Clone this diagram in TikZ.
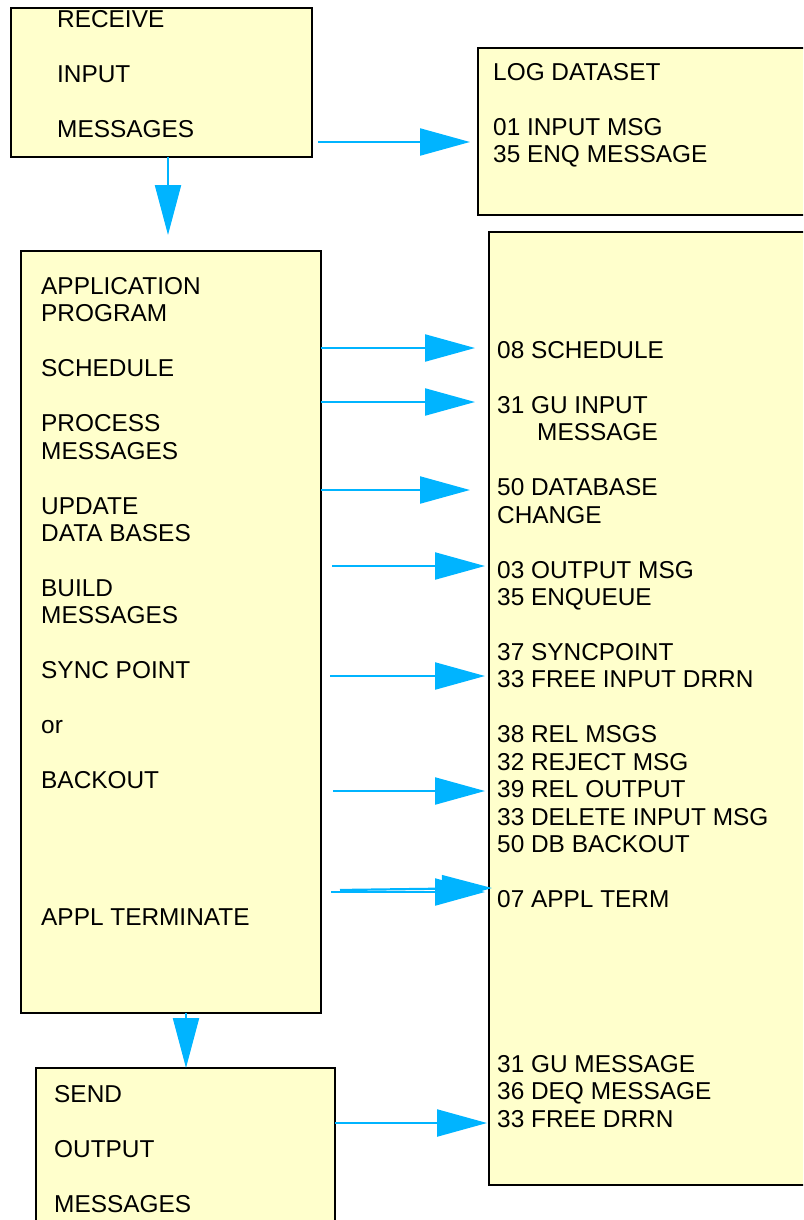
\documentclass[tikz,border=0pt]{standalone}
\usepackage{fontspec}
\setmainfont{Liberation Sans}
\usetikzlibrary{arrows.meta}
\definecolor{boxfill}{RGB}{255,255,204}
\definecolor{flowblue}{RGB}{0,180,255}
\begin{document}
\begin{tikzpicture}[x=1pt,y=-1pt,
  box/.style={draw=black,line width=1.6pt,fill=boxfill,inner sep=0pt,outer sep=0pt,anchor=north west},
  txt/.style={anchor=north west,inner sep=0pt,align=left,font=\fontsize{24.4pt}{27.45pt}\selectfont},
  flow/.style={draw=flowblue,line width=2.2pt,-{Triangle[length=50pt,width=27pt]}}]
\useasboundingbox (0,0) rectangle (803,1220);
\clip (0,0) rectangle (803,1220);

% boxes
\node[box,minimum width=301pt,minimum height=149pt] (recv) at (11,8) {};
\node[box,minimum width=360pt,minimum height=167pt] (log) at (478,48) {};
\node[box,minimum width=300pt,minimum height=762pt] (appl) at (21,251) {};
\node[box,minimum width=350pt,minimum height=953pt] (rec) at (489,232) {};
\node[box,minimum width=299pt,minimum height=200pt] (send) at (36,1068) {};

% texts
\node[txt] (recvtxt) at (57,10.3) {RECEIVE\\[27.45pt]INPUT\\[27.45pt]MESSAGES};
\node[txt] (logtxt) at (493,63.3) {LOG DATASET\\[27.45pt]01 INPUT MSG\\35 ENQ MESSAGE};
\node[txt] (appltxt) at (41,277.3) {APPLICATION\\PROGRAM\\[27.45pt]SCHEDULE\\[27.45pt]PROCESS\\MESSAGES\\[27.45pt]UPDATE\\DATA BASES\\[27.45pt]BUILD\\MESSAGES\\[27.45pt]SYNC POINT\\[27.45pt]or\\[27.45pt]BACKOUT\\[109.8pt]APPL TERMINATE};
\node[txt] (rectxt) at (497,341.3) {08 SCHEDULE\\[27.45pt]31 GU INPUT\\\hspace*{40pt}MESSAGE\\[27.45pt]50 DATABASE\\CHANGE\\[27.45pt]03 OUTPUT MSG\\35 ENQUEUE\\[27.45pt]37 SYNCPOINT\\33 FREE INPUT DRRN\\[27.45pt]38 REL MSGS\\32 REJECT MSG\\39 REL OUTPUT\\33 DELETE INPUT MSG\\50 DB BACKOUT\\[27.45pt]07 APPL TERM\\[137.25pt]31 GU MESSAGE\\36 DEQ MESSAGE\\33 FREE DRRN};
\node[txt] (sendtxt) at (54,1085.3) {SEND\\[27.45pt]OUTPUT\\[27.45pt]MESSAGES};

% connector end points
\coordinate (downA) at (168,157);
\coordinate (downAe) at (168,235);
\coordinate (logS) at (318,142);
\coordinate (logE) at (470,142);
\coordinate (e1) at (475,348);
\coordinate (e2) at (475,402);
\coordinate (e3) at (470,490);
\coordinate (s4) at (332,566);
\coordinate (e4) at (485,566);
\coordinate (s5) at (330,676);
\coordinate (e5) at (485,676);
\coordinate (s6) at (333,791);
\coordinate (e6) at (485,791);
\coordinate (s7) at (331,892);
\coordinate (e7) at (485,892);
\coordinate (s7b) at (340,890);
\coordinate (e7b) at (492,888);
\coordinate (downB) at (186,1013);
\coordinate (downBe) at (186,1068);
\coordinate (sendE) at (487,1123);

% connectors
\draw[flow,-{Triangle[length=50pt,width=26pt]}] (downA) -- (downAe);
\draw[flow] (logS) -- (logE);
\draw[flow] (appl.east |- e1) -- (e1);
\draw[flow] (appl.east |- e2) -- (e2);
\draw[flow] (appl.east |- e3) -- (e3);
\draw[flow] (s4) -- (e4);
\draw[flow] (s5) -- (e5);
\draw[flow] (s6) -- (e6);
\draw[flow] (s7) -- (e7);
\draw[flow] (s7b) -- (e7b);
\draw[flow,-{Triangle[length=50pt,width=26pt]}] (downB) -- (downBe);
\draw[flow] (send.east |- sendE) -- (sendE);
\end{tikzpicture}
\end{document}
